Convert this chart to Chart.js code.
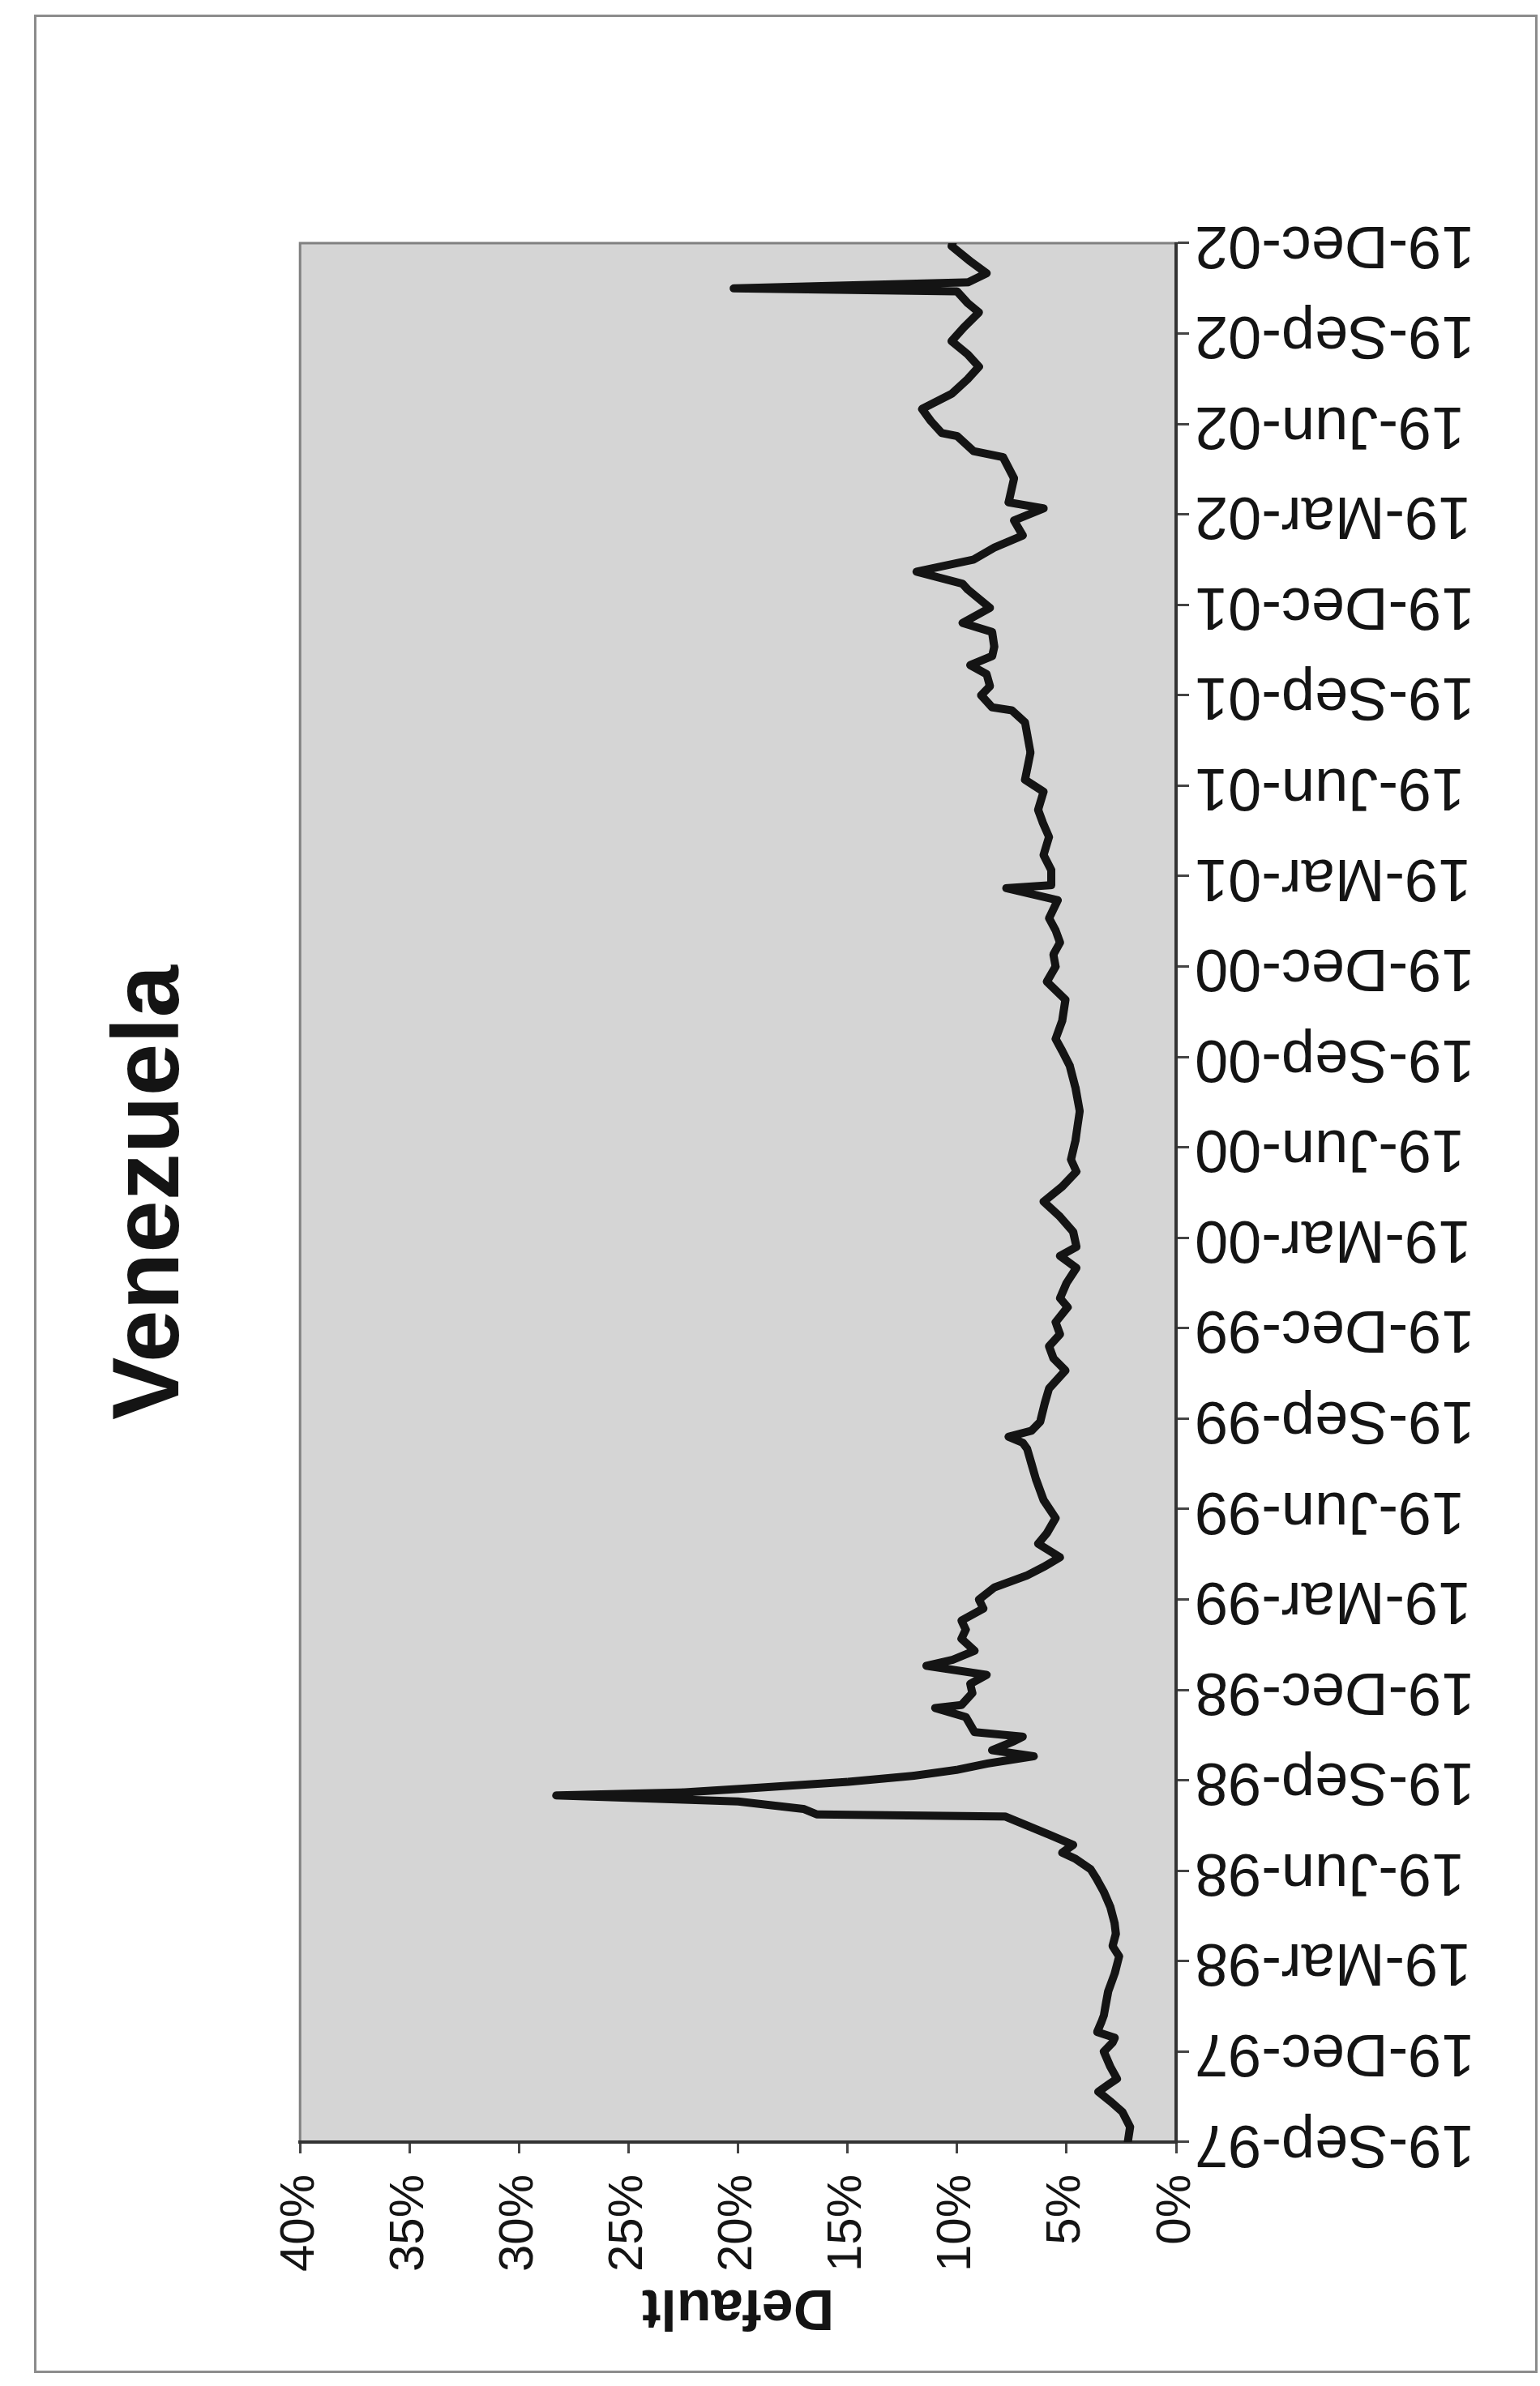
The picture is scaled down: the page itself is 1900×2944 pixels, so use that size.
<!DOCTYPE html>
<html>
<head>
<meta charset="utf-8">
<title>Venezuela</title>
<script src="https://cdn.jsdelivr.net/npm/chart.js@4.4.1/dist/chart.umd.min.js"></script>
<style>
    html, body { margin: 0; padding: 0; background: #fff; overflow: hidden; }
    body { width: 1900px; height: 2944px; position: relative; }
    /* chart is drawn landscape and turned a quarter left, like the scanned page */
    #frame {
        position: absolute; left: 0; top: 0;
        width: 2944px; height: 1900px;
        transform-origin: 0 0;
        transform: translateY(2944px) rotate(-90deg);
    }
    #chart { position: absolute; left: 0; top: 0; }
    #edge {
        position: absolute; left: 16px; top: 42px;
        width: 2910px; height: 1855px;
        box-sizing: border-box;
        border: 3px solid #8c8c8c;
        pointer-events: none;
    }
</style>
</head>
<body>
<div id="frame">
    <canvas id="chart" width="2944" height="1900"></canvas>
    <div id="edge"></div>
</div>
<script>
// months after 19-Sep-97
const months = [
    0, 0.5, 1.0, 1.35, 1.67, 1.9, 2.1, 2.5, 3.0, 3.3,
    3.46, 3.65, 4.0, 4.2, 4.6, 5.0, 5.6, 6.16, 6.5, 6.9,
    7.24, 7.8, 8.3, 8.7, 9.05, 9.4, 9.6, 9.86, 10.2, 10.5,
    10.8, 10.87, 11.05, 11.3, 11.5, 11.6, 11.75, 11.95, 12.15, 12.35,
    12.56, 12.8, 13.0, 13.3, 13.45, 13.6, 14.1, 14.4, 14.5, 14.9,
    15.2, 15.5, 15.8, 16.0, 16.3, 16.7, 17.0, 17.3, 17.7, 18.0,
    18.4, 18.8, 19.1, 19.4, 19.85, 20.2, 20.7, 21.3, 22.0, 22.5,
    23.0, 23.2, 23.4, 23.6, 23.9, 24.5, 25.0, 25.6, 26.0, 26.4,
    26.8, 27.2, 27.7, 28.0, 28.5, 29.0, 29.4, 29.7, 30.2, 30.7,
    31.2, 31.7, 32.2, 32.6, 33.2, 33.7, 34.2, 35.0, 35.7, 36.2,
    36.6, 37.2, 37.9, 38.5, 39.0, 39.4, 39.8, 40.2, 40.6, 41.2,
    41.6, 41.7, 42.2, 42.7, 43.3, 43.8, 44.2, 44.8, 45.2, 46.1,
    47.1, 47.5, 47.6, 48.0, 48.3, 48.7, 49.0, 49.3, 49.6, 50.1,
    50.4, 50.9, 51.2, 51.5, 51.7, 52.1, 52.5, 52.9, 53.3, 53.8,
    54.2, 54.4, 55.2, 55.9, 56.1, 56.6, 56.7, 57.1, 57.5, 58.0,
    58.5, 58.9, 59.3, 59.75, 60.2, 60.7, 61.0, 61.4, 61.5, 61.7,
    62.0, 62.4, 62.9, 63.0
];

// default probability, %
const defaultRate = [
    2.2, 2.1, 2.45, 3.0, 3.55, 3.1, 2.7, 3.0, 3.3, 2.9,
    2.8, 3.6, 3.4, 3.3, 3.2, 3.1, 2.8, 2.6, 2.9, 2.75,
    2.8, 3.0, 3.3, 3.6, 3.9, 4.6, 5.2, 4.7, 5.8, 6.8,
    7.8, 16.4, 17.0, 20.0, 28.3, 22.5, 19.2, 15.0, 12.0, 10.0,
    8.6, 6.5, 8.4, 7.4, 7.0, 9.2, 9.6, 11.0, 9.8, 9.3,
    9.4, 8.65, 11.4, 10.2, 9.2, 9.8, 9.6, 9.8, 8.8, 9.0,
    8.3, 6.8, 6.0, 5.3, 6.3, 5.9, 5.5, 6.05, 6.4, 6.6,
    6.8, 7.0, 7.65, 6.6, 6.2, 6.0, 5.8, 5.05, 5.6, 5.8,
    5.3, 5.5, 4.95, 5.3, 5.0, 4.55, 5.3, 4.55, 4.7, 5.3,
    6.05, 5.2, 4.55, 4.8, 4.6, 4.5, 4.4, 4.6, 4.85, 5.2,
    5.5, 5.2, 5.05, 5.9, 5.5, 5.6, 5.3, 5.5, 5.8, 5.4,
    7.75, 5.7, 5.7, 6.05, 5.8, 6.1, 6.3, 6.05, 6.9, 6.65,
    6.9, 7.5, 8.4, 8.9, 8.5, 8.65, 9.4, 8.4, 8.3, 8.4,
    9.75, 8.5, 9.0, 9.5, 9.75, 11.85, 9.25, 8.3, 7.0, 7.4,
    6.05, 7.65, 7.4, 7.9, 9.25, 10.0, 10.7, 11.2, 11.6, 10.25,
    9.5, 9.0, 9.5, 10.25, 9.7, 9.0, 9.5, 10.0, 20.2, 9.5,
    8.65, 9.4, 10.25, 10.2
];

const tickLabels = [
    '19-Sep-97', '19-Dec-97', '19-Mar-98', '19-Jun-98', '19-Sep-98', '19-Dec-98',
    '19-Mar-99', '19-Jun-99', '19-Sep-99', '19-Dec-99', '19-Mar-00', '19-Jun-00',
    '19-Sep-00', '19-Dec-00', '19-Mar-01', '19-Jun-01', '19-Sep-01', '19-Dec-01',
    '19-Mar-02', '19-Jun-02', '19-Sep-02', '19-Dec-02'
];
const tickMonths = tickLabels.map((_, i) => i * 3); // quarterly

const fontFamily = '"Liberation Sans", Arial, Helvetica, sans-serif';

// grey plot area with a thin frame
const plotBackground = {
    id: 'plotBackground',
    beforeDraw(chart) {
        const { ctx, chartArea: a } = chart;
        ctx.save();
        ctx.fillStyle = '#d5d5d5';
        ctx.fillRect(a.left, a.top, a.right - a.left, a.bottom - a.top);
        ctx.strokeStyle = '#808080';
        ctx.lineWidth = 3;
        ctx.strokeRect(a.left, a.top, a.right - a.left, a.bottom - a.top);
        ctx.restore();
    }
};

new Chart(document.getElementById('chart'), {
    type: 'line',
    data: {
        datasets: [{
            label: 'Default',
            data: months.map((m, i) => ({ x: m, y: defaultRate[i] })),
            borderColor: '#141414',
            borderWidth: 10,
            borderJoinStyle: 'round',
            borderCapStyle: 'round',
            pointRadius: 0,
            tension: 0,
            fill: false
        }]
    },
    options: {
        responsive: false,
        animation: false,
        devicePixelRatio: 1,
        layout: { padding: { left: 0, right: 300, top: 0, bottom: 0 } },
        plugins: {
            legend: { display: false },
            tooltip: { enabled: false },
            title: {
                display: true,
                text: 'Venezuela',
                fullSize: false,
                color: '#141414',
                font: { family: fontFamily, size: 116, weight: 'bold', lineHeight: 1.2 },
                padding: { top: 118, bottom: 113 }
            }
        },
        scales: {
            x: {
                type: 'linear',
                min: 0,
                max: 63,
                afterFit: (scale) => { scale.height = 449; },
                afterBuildTicks: (scale) => { scale.ticks = tickMonths.map(v => ({ value: v })); },
                ticks: {
                    autoSkip: false,
                    minRotation: 90,
                    maxRotation: 90,
                    padding: 7,
                    color: '#141414',
                    font: { family: fontFamily, size: 74 },
                    callback: (value, index) => tickLabels[index]
                },
                grid: {
                    drawOnChartArea: false,
                    drawTicks: true,
                    tickLength: 16,
                    tickWidth: 3,
                    tickColor: '#444'
                },
                border: { display: true, color: '#333', width: 4 }
            },
            y: {
                min: 0,
                max: 40,
                afterFit: (scale) => { scale.width = 301; },
                ticks: {
                    stepSize: 5,
                    padding: 26,
                    color: '#141414',
                    font: { family: fontFamily, size: 60 },
                    callback: (value) => value + '%'
                },
                grid: {
                    drawOnChartArea: false,
                    drawTicks: true,
                    tickLength: 14,
                    tickWidth: 3,
                    tickColor: '#444'
                },
                border: { display: true, color: '#333', width: 4 },
                title: {
                    display: true,
                    text: 'Default',
                    color: '#141414',
                    font: { family: fontFamily, size: 70, weight: 'bold', lineHeight: 1.2 },
                    padding: { top: 57, bottom: 0 }
                }
            }
        }
    },
    plugins: [plotBackground]
});
</script>
</body>
</html>
